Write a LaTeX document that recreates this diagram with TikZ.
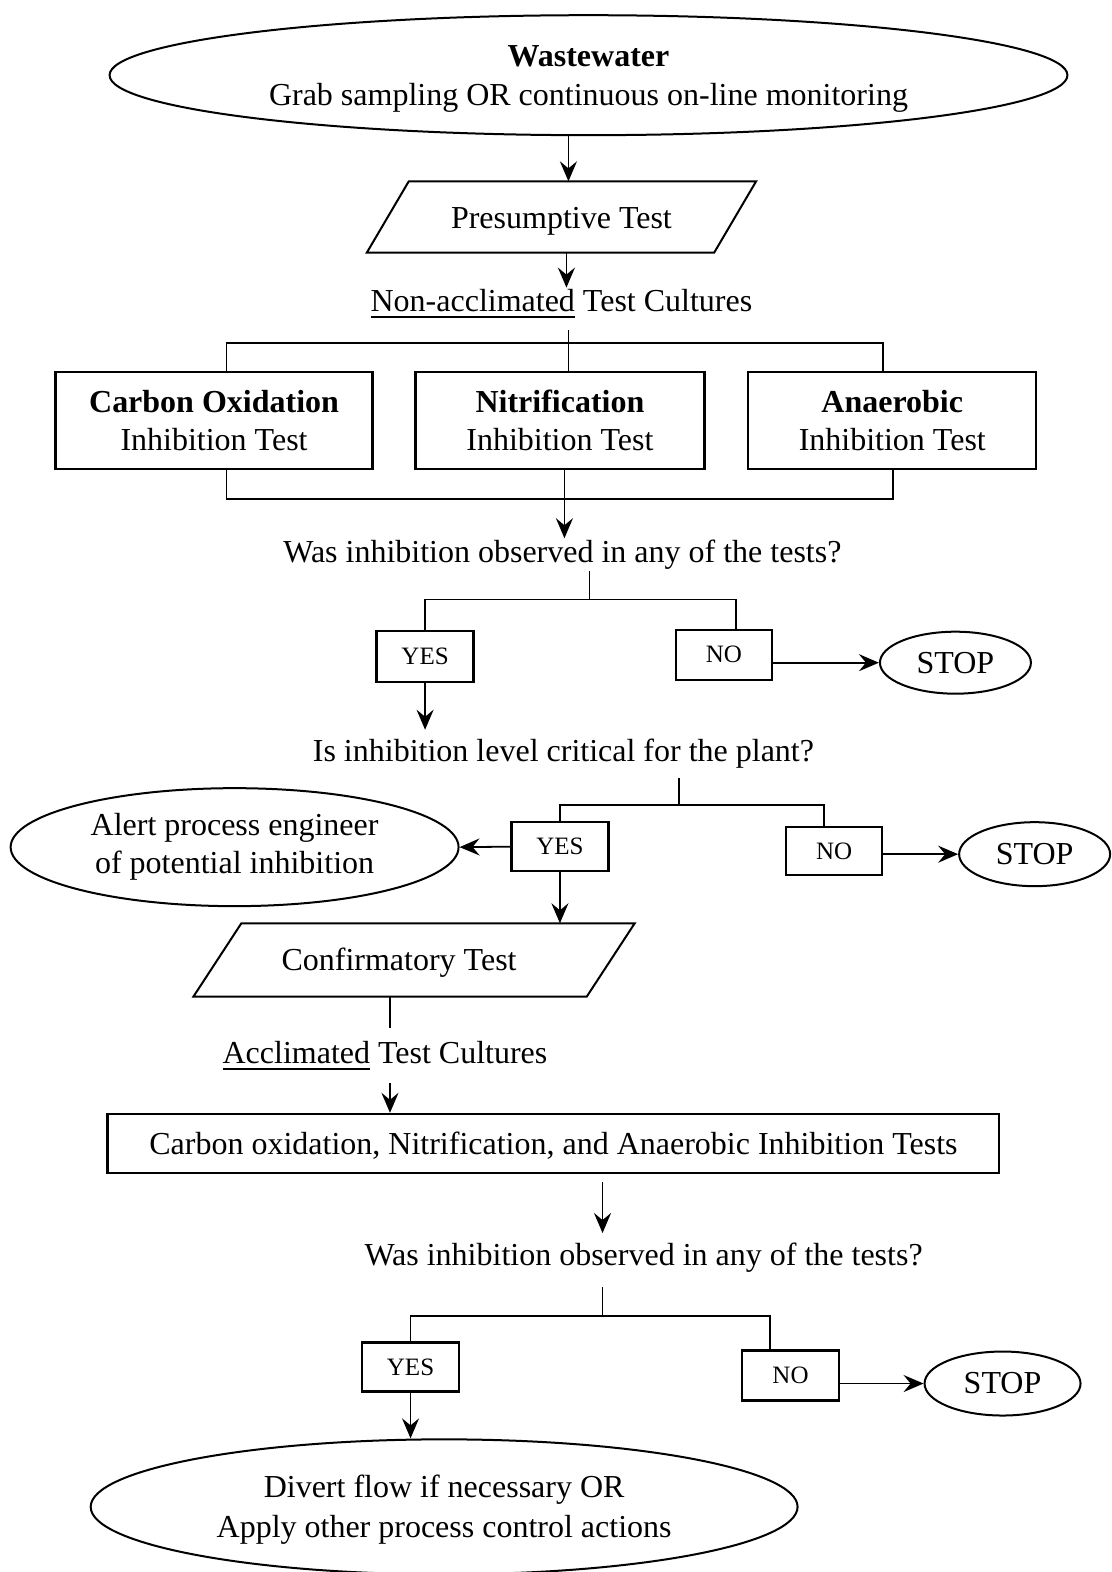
\documentclass[tikz,border=0pt]{standalone}
\usepackage{fontspec}
\setmainfont{Liberation Serif}
\usetikzlibrary{shapes.geometric,arrows.meta,calc}
% thick underline placed a little below the baseline
\newcommand\thickul[1]{\setbox0\hbox{#1}\rlap{\rule[-6pt]{\wd0}{1.5pt}}\box0\relax}
\begin{document}
\begin{tikzpicture}[x=1.0027pt,y=-1.0027pt,
  every node/.style={font=\fontsize{32}{39}\selectfont},
  line/.style={line width=1.8pt},
  arr/.style={line width=1.8pt,-{Stealth[length=20pt,width=17pt,inset=7pt]}},
  boxn/.style={draw,line width=2.2pt,rectangle,inner sep=0pt,align=center,
    font=\fontsize{32}{38}\selectfont},
  smallbox/.style={draw,line width=2.2pt,rectangle,inner sep=0pt,
    font=\fontsize{25}{30}\selectfont},
  oval/.style={draw,line width=2pt,ellipse,inner sep=0pt,align=center},
  lbl/.style={inner sep=0pt,text height=24pt,text depth=8pt,anchor=base},
  plain/.style={inner sep=0pt,text height=28pt,text depth=6pt},
  slanted/.style={line width=2pt},
]
\useasboundingbox (0,0) rectangle (1109,1568);

% ---- source and presumptive test
\node[oval,minimum width=958pt,minimum height=120pt] (ww) at (587,75) {};
\node[align=center,inner sep=0pt] (wwt) at ([yshift=-4pt]ww.center)
  {\textbf{Wastewater}\\Grab sampling OR continuous on-line monitoring};
\node[plain,minimum width=347pt,minimum height=71pt] (pres) at (560,216.5) {Presumptive Test};
\draw[slanted] ([xshift=-21pt]pres.south west) -- ([xshift=21pt]pres.north west)
  -- ([xshift=21pt]pres.north east) -- ([xshift=-21pt]pres.south east) -- cycle;
\coordinate (a1) at ([xshift=7pt]pres.north);
\draw[arr] (a1 |- ww.south) -- (a1);

\node[lbl,text depth=18pt] (nac) at (560,311) {\thickul{Non-acclimated} Test Cultures};
\draw[arr] ([xshift=5pt]pres.south) -- ([xshift=5pt]nac.north);

% ---- three inhibition tests
\node[boxn,minimum width=317pt,minimum height=97pt] (b1) at (213.5,419.5)
  {\textbf{Carbon Oxidation}\\Inhibition Test};
\node[boxn,minimum width=289pt,minimum height=97pt] (b2) at (558.5,419.5)
  {\textbf{Nitrification}\\Inhibition Test};
\node[boxn,minimum width=288pt,minimum height=97pt] (b3) at (890,419.5)
  {\textbf{Anaerobic}\\Inhibition Test};

\coordinate (j1) at (567,342);
\coordinate (t1) at ([xshift=12.5pt]b1.north);
\coordinate (t3) at ([xshift=-9pt]b3.north);
\draw[line] (j1 |- nac.south) -- (j1 |- b2.north);
\draw[line] (t1) |- (j1) -| (t3);

\coordinate (j2) at (563,498);
\coordinate (s1) at ([xshift=12.5pt]b1.south);
\coordinate (s3) at ([xshift=1pt]b3.south);
\draw[line] (s1) |- (j2) -| (s3);

\node[lbl] (q1) at (561,561) {Was inhibition observed in any of the tests?};
\draw[arr] (j2 |- b2.south) -- (j2 |- q1.north);

% ---- first decision
\node[smallbox,minimum width=97pt,minimum height=51pt] (yes1) at (424,654.5) {YES};
\node[smallbox,minimum width=96pt,minimum height=50pt] (no1) at (722,653) {NO};
\node[oval,minimum width=151pt,minimum height=62pt] (stop1) at (953,661) {STOP};
\coordinate (j3) at (588,598);
\coordinate (c1) at ([xshift=12pt]no1.north);
\draw[line] (j3 |- q1.south) -- (j3);
\draw[line] (yes1.north) |- (j3) -| (c1);
\draw[arr] (no1.east |- stop1.west) -- (stop1.west);

\node[lbl,text height=32pt,text depth=16pt] (q2) at (562,760) {Is inhibition level critical for the plant?};
\draw[arr] (yes1.south) -- (yes1.south |- q2.north);

% ---- second decision
\node[smallbox,minimum width=97pt,minimum height=49pt] (yes2) at (558.5,844.5) {YES};
\node[smallbox,minimum width=96pt,minimum height=48pt] (no2) at (832,849) {NO};
\node[oval,minimum width=448pt,minimum height=118pt,font=\fontsize{32}{38}\selectfont] (alert) at (234,845)
  {Alert process engineer\\of potential inhibition};
\node[oval,minimum width=151pt,minimum height=64pt] (stop2) at (1032,852) {STOP};
\coordinate (j4) at (677,803);
\coordinate (c2) at ([xshift=-10pt]no2.north);
\draw[line] (j4 |- q2.south) -- (j4);
\draw[line] (yes2.north) |- (j4) -| (c2);
\draw[arr] (yes2.west) -- (alert.east);
\draw[arr] (no2.east |- stop2.west) -- (stop2.west);

% ---- confirmatory test
\node[plain,minimum width=393pt,minimum height=73pt] (conf) at (413,957.5)
  {Confirmatory Test\hspace*{30pt}};
\draw[slanted] ([xshift=-24pt]conf.south west) -- ([xshift=24pt]conf.north west)
  -- ([xshift=24pt]conf.north east) -- ([xshift=-24pt]conf.south east) -- cycle;
\draw[arr] (yes2.south) -- (yes2.south |- conf.north);

\node[lbl,text height=36pt,text depth=19pt] (acc) at (384,1061) {\thickul{Acclimated} Test Cultures};
\coordinate (k) at (389,0);
\draw[line] (k |- conf.south) -- (k |- acc.north);

\node[boxn,text height=26pt,text depth=4pt,minimum width=892pt,minimum height=59pt] (all) at (552,1140.5)
  {Carbon oxidation, Nitrification, and Anaerobic Inhibition Tests};
\draw[arr] (k |- acc.south) -- (k |- all.north);

% ---- third decision
\node[lbl,text height=32pt,text depth=22pt] (q3) at (642,1262) {Was inhibition observed in any of the tests?};
\coordinate (j5) at (601,1313);
\draw[arr,shorten <=8pt] (j5 |- all.south) -- (j5 |- q3.north);

\node[smallbox,minimum width=97pt,minimum height=49pt] (yes3) at (409.5,1363.5) {YES};
\node[smallbox,minimum width=97pt,minimum height=50pt] (no3) at (788.5,1372) {NO};
\node[oval,minimum width=156pt,minimum height=64pt] (stop3) at (1000,1380) {STOP};
\coordinate (c3) at ([xshift=-20.5pt]no3.north);
\draw[line] (j5 |- q3.south) -- (j5);
\draw[line] (yes3.north) |- (j5) -| (c3);
\draw[arr] (no3.east |- stop3.west) -- (stop3.west);

\node[oval,minimum width=707pt,minimum height=135pt] (final) at (443,1503) {};
\node[align=center,inner sep=0pt,font=\fontsize{32}{40}\selectfont] (finalt) at ([yshift=-3pt]final.center)
  {Divert flow if necessary OR\\Apply other process control actions};
\draw[arr] (yes3.south) -- (yes3.south |- final.north);
\end{tikzpicture}
\end{document}
